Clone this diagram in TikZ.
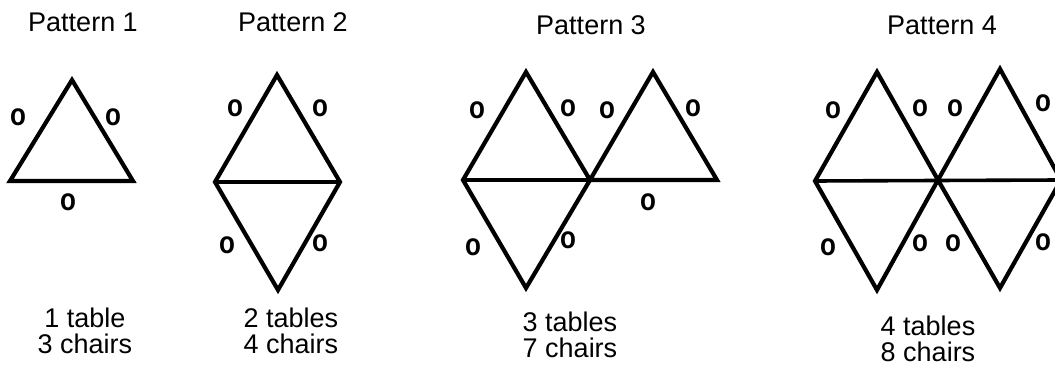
\documentclass[tikz,border=0pt]{standalone}
\usepackage{fontspec}
\usepackage{graphicx}
\setmainfont{Liberation Sans}
\usetikzlibrary{positioning}
\newcommand{\chairo}{\scalebox{1}[1.2]{o}}
\tikzset{
  tableedge/.style={line width=2.1pt, line join=miter},
  midedge/.style={line width=1.8pt},
  chair/.style={inner sep=0pt, font=\bfseries\fontsize{13}{13}\selectfont},
  pattitle/.style={inner sep=0pt, font=\fontsize{13.5}{14}\selectfont},
  counts/.style={inner sep=0pt, align=center, font=\fontsize{13.5}{12.8}\selectfont},
}
\begin{document}
\begin{tikzpicture}[x=0.5pt, y=-0.5pt]
\useasboundingbox (0,0) rectangle (1055,373);
% titles
\node[pattitle] (t1) at (83,22) {Pattern 1};
\node[pattitle] (t2) at (293,22) {Pattern 2};
\node[pattitle] (t3) at (591,25) {Pattern 3};
\node[pattitle] (t4) at (942,25) {Pattern 4};

% pattern 1
\coordinate (p1t) at (72,80);
\coordinate (p1l) at (10,181);
\coordinate (p1r) at (133,181);
\draw[tableedge] (p1t) -- (p1l) -- (p1r) -- cycle;
\node[chair] (c1a) at (18,117) {\chairo};
\node[chair] (c1b) at (113,117) {\chairo};
\node[chair] (c1c) at (68,202) {\chairo};
\node[counts] (n1) at (85,331) {1 table\\3 chairs};

% pattern 2
\coordinate (p2t) at (277,75);
\coordinate (p2l) at (215,182);
\coordinate (p2r) at (340,182);
\coordinate (p2b) at (278,290);
\draw[tableedge] (p2t) -- (p2l) -- (p2b) -- (p2r) -- cycle;
\draw[midedge] (p2l) -- (p2r);
\node[chair] (c2a) at (235,108) {\chairo};
\node[chair] (c2b) at (320,108) {\chairo};
\node[chair] (c2c) at (227,245) {\chairo};
\node[chair] (c2d) at (320,243) {\chairo};
\node[counts] (n2) at (291,331) {2 tables\\4 chairs};

% pattern 3
\coordinate (p3l) at (463,180);
\coordinate (p3m) at (590,180);
\coordinate (p3r) at (717,180);
\coordinate (p3t1) at (526,72);
\coordinate (p3t2) at (653,72);
\coordinate (p3b) at (526,288);
\draw[tableedge] (p3t1) -- (p3l) -- (p3b) -- (p3m) -- cycle;
\draw[tableedge] (p3m) -- (p3t2) -- (p3r) -- (p3m);
\draw[midedge] (p3l) -- (p3m);
\node[chair] (c3a) at (477,110) {\chairo};
\node[chair] (c3b) at (568,108) {\chairo};
\node[chair] (c3c) at (607,110) {\chairo};
\node[chair] (c3d) at (693,108) {\chairo};
\node[chair] (c3e) at (648,202) {\chairo};
\node[chair] (c3f) at (473,247) {\chairo};
\node[chair] (c3g) at (568,240) {\chairo};
\node[counts] (n3) at (570,335) {3 tables\\7 chairs};

% pattern 4
\coordinate (p4l) at (815,181);
\coordinate (p4m) at (938,180);
\coordinate (p4r) at (1061,180);
\coordinate (p4t1) at (877,72);
\coordinate (p4t2) at (1000,69);
\coordinate (p4b1) at (877,290);
\coordinate (p4b2) at (1000,288);
\draw[tableedge] (p4l) -- (p4t1) -- (p4m) -- (p4t2) -- (p4r) -- (p4b2) -- (p4m) -- (p4b1) -- cycle;
\draw[midedge] (p4l) -- (p4r);
\node[chair] (c4a) at (833,110) {\chairo};
\node[chair] (c4b) at (920,108) {\chairo};
\node[chair] (c4c) at (955,108) {\chairo};
\node[chair] (c4d) at (1043,103) {\chairo};
\node[chair] (c4e) at (828,247) {\chairo};
\node[chair] (c4f) at (920,243) {\chairo};
\node[chair] (c4g) at (953,243) {\chairo};
\node[chair] (c4h) at (1043,242) {\chairo};
\node[counts] (n4) at (928,339) {4 tables\\8 chairs};
\end{tikzpicture}
\end{document}
